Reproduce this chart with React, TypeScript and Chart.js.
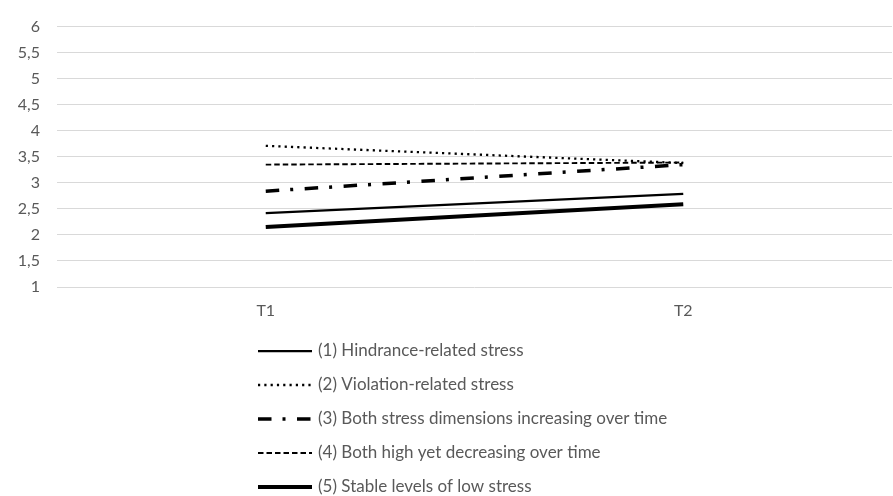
import React, { useEffect, useRef } from "react";
import { Chart, registerables } from "chart.js";

Chart.register(...registerables);

const categories = ["T1", "T2"];
const seriesLabels = [
  "(1) Hindrance-related stress",
  "(2) Violation-related stress",
  "(3) Both stress dimensions increasing over time",
  "(4) Both high yet decreasing over time",
  "(5) Stable levels of low stress",
];
const hindrance = [2.42, 2.79];
const violation = [3.71, 3.38];
const bothIncreasing = [2.84, 3.35];
const highDecreasing = [3.35, 3.39];
const stableLow = [2.15, 2.59];
const yMin = 1;
const yMax = 6;
const yStep = 0.5;

const FONT = "Lato, 'Open Sans', sans-serif";
const TEXT_COLOR = "#595959";

const legendPlugin = {
  id: "verticalLegend",
  afterDraw(chart: any) {
    const ctx = chart.ctx;
    const left = 258;
    const sampleW = 54;
    const startY = 351;
    const step = 34;
    ctx.save();
    chart.data.datasets.forEach((ds: any, i: number) => {
      const y = startY + i * step;
      ctx.beginPath();
      ctx.strokeStyle = ds.borderColor;
      ctx.lineWidth = ds.borderWidth;
      ctx.lineCap = "butt";
      ctx.setLineDash(ds.borderDash || []);
      ctx.moveTo(left, y);
      ctx.lineTo(left + sampleW, y);
      ctx.stroke();
      ctx.setLineDash([]);
      ctx.fillStyle = TEXT_COLOR;
      ctx.font = `17px ${FONT}`;
      ctx.textAlign = "left";
      ctx.textBaseline = "middle";
      ctx.fillText(ds.label, left + sampleW + 6, y);
    });
    ctx.restore();
  },
};

export default function App() {
  const ref = useRef<HTMLCanvasElement | null>(null);

  useEffect(() => {
    if (!ref.current) return;
    const mk = (i: number, data: number[], width: number, dash: number[]) => ({
      label: seriesLabels[i],
      data,
      borderColor: "#000000",
      backgroundColor: "#000000",
      borderWidth: width,
      borderDash: dash,
      borderCapStyle: "butt",
      pointRadius: 0,
      pointHoverRadius: 0,
      fill: false,
      tension: 0,
    });
    const chart = new Chart(ref.current, {
      type: "line",
      data: {
        labels: categories,
        datasets: [
          mk(0, hindrance, 2.25, []),
          mk(1, violation, 2.3, [2.2, 4.1]),
          mk(2, bothIncreasing, 3.5, [13.5, 11, 3, 11.5]),
          mk(3, highDecreasing, 1.9, [5.5, 3]),
          mk(4, stableLow, 4, []),
        ] as any,
      },
      options: {
        responsive: false,
        animation: false,
        devicePixelRatio: 1,
        layout: { padding: { top: 24, right: 1, left: 0, bottom: 0 } },
        plugins: {
          legend: { display: false },
          tooltip: { enabled: false },
          title: { display: false },
        },
        scales: {
          x: {
            offset: true,
            grid: { display: false, drawTicks: false },
            border: { display: false },
            ticks: {
              padding: 14,
              color: TEXT_COLOR,
              font: { family: FONT, size: 16 },
            },
            afterFit: (s: any) => {
              s.height = 209;
            },
          },
          y: {
            min: yMin,
            max: yMax,
            grid: { color: "#d9d9d9", lineWidth: 1, drawTicks: false },
            border: { display: false },
            ticks: {
              stepSize: yStep,
              padding: 17,
              color: TEXT_COLOR,
              font: { family: FONT, size: 16 },
              callback: (v: any) => String(v).replace(".", ","),
            },
            afterFit: (s: any) => {
              s.width = 57;
            },
          },
        },
      },
      plugins: [legendPlugin],
    });
    return () => chart.destroy();
  }, []);

  return (
    <div
      style={{
        position: "fixed",
        left: 0,
        top: 0,
        width: 893,
        height: 496,
        background: "#ffffff",
      }}
    >
      <canvas ref={ref} width={893} height={496} style={{ width: 893, height: 496 }} />
    </div>
  );
}
